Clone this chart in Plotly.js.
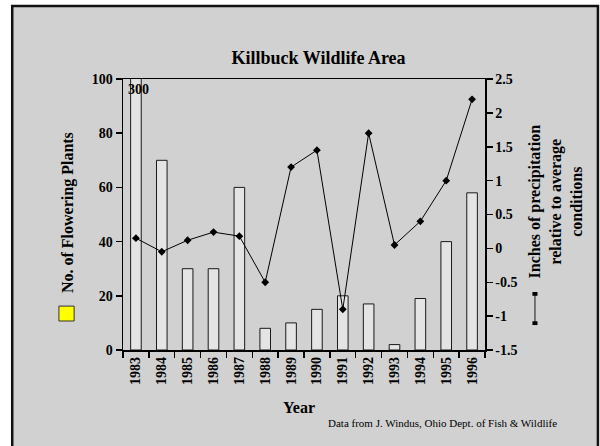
<!DOCTYPE html>
<html>
<head>
<meta charset="utf-8">
<script src="https://cdn.plot.ly/plotly-3.0.1.min.js"></script>
<style>
  html, body { margin: 0; padding: 0; background: #ffffff; }
  #chart { width: 600px; height: 446px; }
</style>
</head>
<body>
<div id="chart"></div>
<script>
// Killbuck Wildlife Area: flowering plant counts vs. precipitation anomaly
const years = ['1983', '1984', '1985', '1986', '1987', '1988', '1989',
               '1990', '1991', '1992', '1993', '1994', '1995', '1996'];
const floweringPlants = [300, 70, 30, 30, 60, 8, 10, 15, 20, 17, 2, 19, 40, 58];
const precipAnomaly = [0.15, -0.05, 0.12, 0.24, 0.18, -0.5, 1.2, 1.45, -0.9, 1.7, 0.05, 0.4, 1.0, 2.2];

const plantTicks = [0, 20, 40, 60, 80, 100];
const precipTicks = [-1.5, -1, -0.5, 0, 0.5, 1, 1.5, 2, 2.5];
const precipTickText = ['-1.5', '-1', '-0.5', '0', '0.5', '1', '1.5', '2', '2.5'];

const SERIF = 'Liberation Serif, Times New Roman, serif';
const BG = '#d1d1d1';

const bars = {
  type: 'bar',
  x: years,
  y: floweringPlants,
  yaxis: 'y',
  marker: { color: '#e4e4e4', line: { color: '#1a1a1a', width: 1 } },
  hoverinfo: 'x+y',
  showlegend: false
};

const precipLine = {
  type: 'scatter',
  mode: 'lines+markers',
  x: years,
  y: precipAnomaly,
  yaxis: 'y2',
  line: { color: '#000000', width: 1 },
  marker: { symbol: 'diamond', size: 6, color: '#000000' },
  showlegend: false
};

// the first bar runs past the top of the axis, so its value is written on it
const tallestIndex = floweringPlants.indexOf(Math.max(...floweringPlants));

const layout = {
  width: 600,
  height: 446,
  margin: { l: 123, r: 115, t: 79, b: 96, pad: 0 },
  paper_bgcolor: '#ffffff',
  plot_bgcolor: 'rgba(0,0,0,0)',
  bargap: 0.59,
  font: { family: SERIF, color: '#000000' },
  title: {
    text: '<b>Killbuck Wildlife Area</b>',
    font: { family: SERIF, size: 18, color: '#000000' },
    x: 0.531, xanchor: 'center', xref: 'container',
    y: 0.87, yanchor: 'middle', yref: 'container'
  },
  xaxis: {
    type: 'category',
    range: [-0.5, 13.5],
    showline: true, linecolor: '#000000', linewidth: 1.5,
    mirror: true,
    ticks: 'outside', tickson: 'boundaries', ticklen: 6, tickcolor: '#000000', tickwidth: 1.5,
    tickangle: -90,
    tickfont: { family: SERIF, size: 14, weight: 'bold', color: '#000000' },
    showgrid: false, zeroline: false
  },
  yaxis: {
    range: [0, 100],
    tickvals: plantTicks,
    showline: true, linecolor: '#000000', linewidth: 1.5,
    ticks: 'outside', ticklen: 6, tickcolor: '#000000', tickwidth: 1.5,
    tickfont: { family: SERIF, size: 14, weight: 'bold', color: '#000000' },
    showgrid: false, zeroline: false
  },
  yaxis2: {
    overlaying: 'y',
    side: 'right',
    range: [-1.5, 2.5],
    tickvals: precipTicks,
    ticktext: precipTickText,
    showline: true, linecolor: '#000000', linewidth: 1.5,
    ticks: 'outside', ticklen: 6, tickcolor: '#000000', tickwidth: 1.5,
    tickfont: { family: SERIF, size: 14, weight: 'bold', color: '#000000' },
    showgrid: false, zeroline: false
  },
  shapes: [
    // framed gray panel
    { type: 'rect', xref: 'paper', yref: 'paper', layer: 'below',
      x0: -0.306, x1: 1.312, y0: -0.38, y1: 1.269,
      fillcolor: BG, line: { color: '#111111', width: 2.5 } },
    // yellow key next to the left axis title
    { type: 'rect', xref: 'paper', yref: 'paper',
      x0: -0.177, x1: -0.135, y0: 0.107, y1: 0.162,
      fillcolor: '#ffff00', line: { color: '#333333', width: 1 } },
    // line key next to the right axis title
    { type: 'line', xref: 'paper', yref: 'paper',
      x0: 1.138, x1: 1.138, y0: 0.099, y1: 0.207,
      line: { color: '#555555', width: 1.5 } },
    { type: 'rect', xref: 'paper', yref: 'paper',
      x0: 1.131, x1: 1.145, y0: 0.092, y1: 0.106,
      fillcolor: '#000000', line: { width: 0 } },
    { type: 'rect', xref: 'paper', yref: 'paper',
      x0: 1.131, x1: 1.145, y0: 0.200, y1: 0.214,
      fillcolor: '#000000', line: { width: 0 } }
  ],
  annotations: [
    { x: tallestIndex, y: 96, xref: 'x', yref: 'y',
      text: '<b>' + String(floweringPlants[tallestIndex]) + '</b>',
      showarrow: false, xanchor: 'center', yanchor: 'middle', xshift: 3,
      font: { family: SERIF, size: 14, color: '#000000' } },
    { x: 0.485, y: -0.214, xref: 'paper', yref: 'paper',
      text: '<b>Year</b>', showarrow: false,
      xanchor: 'center', yanchor: 'middle',
      font: { family: SERIF, size: 16, color: '#000000' } },
    { x: 0.562, y: -0.269, xref: 'paper', yref: 'paper',
      text: 'Data from J. Windus, Ohio Dept. of Fish &amp; Wildlife', showarrow: false,
      xanchor: 'left', yanchor: 'middle',
      font: { family: SERIF, size: 11, color: '#000000' } },
    { x: -0.152, y: 0.509, xref: 'paper', yref: 'paper',
      text: '<b>No. of Flowering Plants</b>', showarrow: false, textangle: -90,
      xanchor: 'center', yanchor: 'middle',
      font: { family: SERIF, size: 16, color: '#000000' } },
    { x: 1.196, y: 0.548, xref: 'paper', yref: 'paper',
      text: '<b>Inches of precipitation<br>relative to average<br>conditions</b>',
      showarrow: false, textangle: -90,
      xanchor: 'center', yanchor: 'middle',
      font: { family: SERIF, size: 16, color: '#000000' } }
  ]
};

Plotly.newPlot('chart', [bars, precipLine], layout, { displayModeBar: false, staticPlot: true });
</script>
</body>
</html>
